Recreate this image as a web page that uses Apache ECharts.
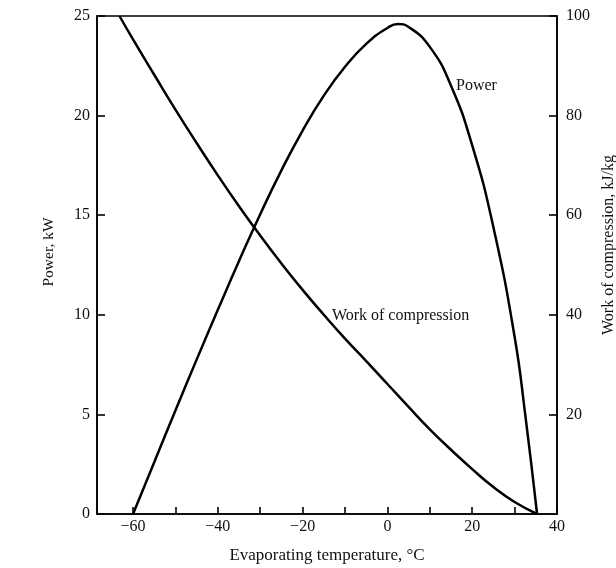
<!DOCTYPE html>
<html>
<head>
<meta charset="utf-8">
<script src="https://cdn.jsdelivr.net/npm/echarts@6/dist/echarts.min.js"></script>
<style>html,body{margin:0;padding:0;background:#fff}#c{width:616px;height:568px}</style>
</head>
<body>
<div id="c"></div>
<script>
// Evaporating temperature (°C) vs Power (kW)
var powerT = [-60, -55, -50, -45, -40, -35, -30, -25, -20, -15, -10, -5, 0, 2.5, 5, 10, 15, 20, 25, 30, 32.5, 35.3];
var powerV = [0, 2.6, 5.2, 7.75, 10.25, 12.7, 15.05, 17.25, 19.25, 21.0, 22.45, 23.6, 24.4, 24.6, 24.45, 23.45, 21.5, 18.5, 14.4, 8.9, 5.0, 0];
// Evaporating temperature (°C) vs Work of compression (kJ/kg)
var workT = [-63.2, -60, -55, -50, -45, -40, -35, -30, -25, -20, -15, -10, -5, 0, 5, 10, 15, 20, 25, 30, 35.3];
var workV = [100, 95.3, 88.2, 81.2, 74.5, 68.0, 61.8, 55.9, 50.3, 45.0, 40.0, 35.2, 30.7, 26.1, 21.5, 17.0, 12.9, 9.0, 5.4, 2.4, 0];
// Axis ticks
var xTickValues = [-60, -50, -40, -30, -20, -10, 0, 10, 20, 30, 40];
var xLabelValues = [-60, -40, -20, 0, 20, 40];
var powerTicks = [0, 5, 10, 15, 20, 25];
var workTicks = [20, 40, 60, 80, 100];

function pairs(a, b) { return a.map(function (v, i) { return [v, b[i]]; }); }
var font = 'Liberation Serif';
var ink = '#111';
var chart = echarts.init(document.getElementById('c'));
chart.setOption({
  animation: false,
  backgroundColor: '#fff',
  grid: { left: 97, right: 59, top: 16, bottom: 54, outerBoundsMode: 'none', containLabel: false,
          show: true, borderColor: '#000', borderWidth: 1.6, backgroundColor: 'transparent' },
  xAxis: {
    type: 'value', min: -68.5, max: 40,
    name: 'Evaporating temperature, °C', nameLocation: 'middle', nameGap: 33,
    nameTextStyle: { fontFamily: font, fontSize: 17, color: ink },
    axisLine: { show: true, onZero: false, lineStyle: { color: '#000', width: 1.6 } },
    axisTick: { show: true, inside: true, length: 7, customValues: xTickValues, lineStyle: { color: '#000', width: 1.6 } },
    axisLabel: {
      fontFamily: font, fontSize: 16, color: ink, margin: 5, customValues: xLabelValues,
      formatter: function (v) { return String(v).replace('-', '\u2212'); }
    },
    splitLine: { show: false }
  },
  yAxis: [{
    type: 'value', min: 0, max: 25, position: 'left',
    name: 'Power, kW', nameLocation: 'middle', nameGap: 40, nameRotate: 90,
    nameTextStyle: { fontFamily: font, fontSize: 15.5, color: ink, padding: [0, 0, 0, 26] },
    axisLine: { show: true, onZero: false, lineStyle: { color: '#000', width: 1.6 } },
    axisTick: { show: true, inside: true, length: 8, customValues: powerTicks, lineStyle: { color: '#000', width: 1.6 } },
    axisLabel: { fontFamily: font, fontSize: 16, color: ink, margin: 7, customValues: powerTicks },
    splitLine: { show: false }
  }, {
    type: 'value', min: 0, max: 100, position: 'right',
    name: 'Work of compression, kJ/kg', nameLocation: 'middle', nameGap: 44, nameRotate: 90,
    nameTextStyle: { fontFamily: font, fontSize: 16, color: ink, padding: [0, 0, 0, 40] },
    axisLine: { show: true, onZero: false, lineStyle: { color: '#000', width: 1.6 } },
    axisTick: { show: true, inside: true, length: 8, customValues: workTicks, lineStyle: { color: '#000', width: 1.6 } },
    axisLabel: { fontFamily: font, fontSize: 16, color: ink, margin: 9, customValues: workTicks },
    splitLine: { show: false }
  }],
  series: [{
    name: 'Power', type: 'line', yAxisIndex: 0, smooth: 0.5, symbol: 'none',
    lineStyle: { color: '#000', width: 2.5 },
    data: pairs(powerT, powerV),
    markPoint: {
      symbol: 'circle', symbolSize: 1, itemStyle: { color: 'transparent' },
      label: { show: true, position: 'inside', formatter: 'Power', fontFamily: font, fontSize: 16, color: ink },
      data: [{ coord: [21.0, 21.5] }]
    }
  }, {
    name: 'Work of compression', type: 'line', yAxisIndex: 1, smooth: 0.5, symbol: 'none',
    lineStyle: { color: '#000', width: 2.5 },
    data: pairs(workT, workV),
    markPoint: {
      symbol: 'circle', symbolSize: 1, itemStyle: { color: 'transparent' },
      label: { show: true, position: 'inside', formatter: 'Work of compression', fontFamily: font, fontSize: 16, color: ink },
      data: [{ coord: [3.1, 39.7] }]
    }
  }]
});
</script>
</body>
</html>
